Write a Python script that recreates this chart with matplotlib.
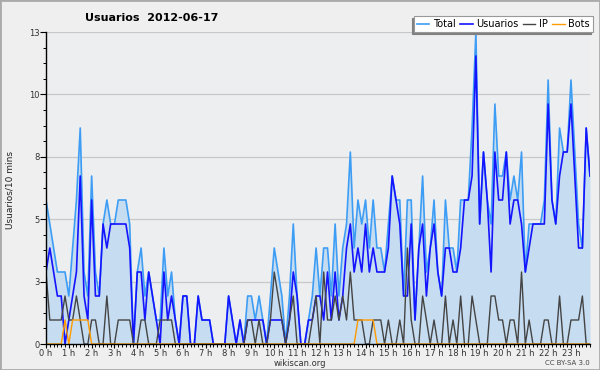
import matplotlib
matplotlib.use("Agg")
import matplotlib.pyplot as plt
import numpy as np
from matplotlib.patches import Rectangle

# users per 10 minutes, 144 slots (0 h .. 23 h 50)
total = [6, 5, 4, 3, 3, 3, 2, 4, 6, 9, 3, 2,
         7, 3, 2, 5, 6, 5, 5, 6, 6, 6, 5, 0,
         3, 4, 2, 3, 2, 1, 1, 4, 2, 3, 1, 0,
         2, 2, 0, 0, 2, 1, 1, 1, 0, 0, 0, 0,
         2, 1, 0, 1, 0, 2, 2, 1, 2, 1, 0, 2,
         4, 3, 2, 0, 2, 5, 2, 0, 0, 1, 2, 4,
         2, 4, 4, 2, 5, 2, 4, 5, 8, 4, 6, 5,
         6, 4, 6, 4, 4, 3, 5, 7, 6, 6, 2, 6,
         6, 1, 4, 7, 3, 4, 6, 3, 2, 6, 4, 4,
         3, 6, 6, 6, 9, 13, 5, 8, 6, 5, 10, 7,
         7, 8, 6, 7, 6, 8, 3, 5, 5, 5, 5, 6,
         11, 6, 5, 9, 8, 8, 11, 8, 5, 4, 9, 7]

usuarios = [3, 4, 3, 2, 2, 0, 1, 2, 3, 7, 2, 1,
            6, 2, 2, 5, 4, 5, 5, 5, 5, 5, 4, 0,
            3, 3, 1, 3, 2, 1, 0, 3, 1, 2, 1, 0,
            2, 2, 0, 0, 2, 1, 1, 1, 0, 0, 0, 0,
            2, 1, 0, 1, 0, 1, 1, 1, 1, 1, 0, 1,
            1, 1, 1, 0, 1, 3, 2, 0, 0, 1, 1, 2,
            2, 1, 3, 1, 3, 1, 2, 4, 5, 3, 4, 3,
            5, 3, 4, 3, 3, 3, 4, 7, 6, 5, 2, 2,
            5, 1, 4, 5, 2, 4, 5, 3, 2, 4, 4, 3,
            3, 4, 6, 6, 7, 12, 5, 8, 6, 3, 8, 6,
            6, 8, 5, 6, 6, 5, 3, 4, 5, 5, 5, 5,
            10, 6, 5, 7, 8, 8, 10, 7, 4, 4, 9, 7]

ip = [3, 1, 1, 1, 1, 2, 1, 1, 2, 1, 0, 0,
      1, 1, 0, 0, 2, 0, 0, 1, 1, 1, 1, 0,
      0, 1, 1, 0, 0, 0, 1, 1, 1, 1, 0, 0,
      0, 0, 0, 0, 0, 0, 0, 0, 0, 0, 0, 0,
      0, 0, 0, 0, 0, 1, 1, 0, 1, 0, 0, 1,
      3, 2, 1, 0, 1, 2, 0, 0, 0, 0, 1, 2,
      0, 3, 1, 1, 2, 1, 2, 1, 3, 1, 1, 1,
      0, 0, 1, 1, 1, 0, 1, 0, 0, 1, 0, 4,
      1, 0, 0, 2, 1, 0, 1, 0, 0, 2, 0, 1,
      0, 2, 0, 0, 2, 1, 0, 0, 0, 2, 2, 1,
      1, 0, 1, 1, 0, 3, 0, 1, 0, 0, 0, 1,
      1, 0, 0, 2, 0, 0, 1, 1, 1, 2, 0, 0]

bots = [0, 0, 0, 0, 0, 1, 0, 1, 1, 1, 1, 1,
        0, 0, 0, 0, 0, 0, 0, 0, 0, 0, 0, 0,
        0, 0, 0, 0, 0, 0, 0, 0, 0, 0, 0, 0,
        0, 0, 0, 0, 0, 0, 0, 0, 0, 0, 0, 0,
        0, 0, 0, 0, 0, 0, 0, 0, 0, 0, 0, 0,
        0, 0, 0, 0, 0, 0, 0, 0, 0, 0, 0, 0,
        0, 0, 0, 0, 0, 0, 0, 0, 0, 0, 1, 1,
        1, 1, 1, 0, 0, 0, 0, 0, 0, 0, 0, 0,
        0, 0, 0, 0, 0, 0, 0, 0, 0, 0, 0, 0,
        0, 0, 0, 0, 0, 0, 0, 0, 0, 0, 0, 0,
        0, 0, 0, 0, 0, 0, 0, 0, 0, 0, 0, 0,
        0, 0, 0, 0, 0, 0, 0, 0, 0, 0, 0, 0]

hour_labels = ['%d h' % h for h in range(24)]
y_ticks = [0, 2.6, 5.2, 7.8, 10.4, 13]
y_labels = ['0', '3', '5', '8', '10', '13']

x = np.arange(len(total))

fig = plt.figure(figsize=(6, 3.7), dpi=100, facecolor='#efefef')
ax = fig.add_axes([46 / 600, 26 / 370, 544 / 600, 312 / 370])
ax.set_facecolor('#eceef0')

ax.fill_between(x, total, color='#c6dcf0', lw=0, zorder=1)
ax.plot(x, total, color='#3d9df5', lw=1.2, label='Total')
ax.plot(x, usuarios, color='#1414ff', lw=1.2, label='Usuarios')
ax.plot(x, ip, color='#444444', lw=1.0, label='IP')
ax.plot(x, bots, color='#ff9a00', lw=1.0, label='Bots')

ax.set_xlim(0, len(total) - 1)
ax.set_ylim(0, 13)

ax.set_yticks(y_ticks)
ax.set_yticklabels(y_labels)
ax.set_yticks(np.arange(0, 13.01, 0.65), minor=True)
ax.set_xticks(x[::6])
ax.set_xticklabels(hour_labels)
ax.set_xticks(x, minor=True)

ax.tick_params(which='major', direction='out', length=4, width=0.8,
               labelsize=6, labelcolor='#333333', pad=0.5)
ax.tick_params(which='minor', direction='out', length=2.5, width=0.7)
ax.tick_params(axis='x', which='major', length=3)

ax.yaxis.grid(True, color='#c8c8c8', lw=0.9)
ax.set_axisbelow(True)
for s in ['top', 'right']:
    ax.spines[s].set_visible(False)
for s in ['left', 'bottom']:
    ax.spines[s].set_color('black')
    ax.spines[s].set_linewidth(1.0)

leg = ax.legend(loc='upper right', bbox_to_anchor=(593 / 600, 1 - 16 / 370),
                bbox_transform=fig.transFigure, ncol=4, fontsize=7,
                handlelength=1.3, handletextpad=0.4, columnspacing=0.4,
                borderpad=0.3, borderaxespad=0, fancybox=False, framealpha=1,
                edgecolor='#999999',
                shadow={'ox': -1.5, 'oy': -1.5, 'color': '#808080', 'alpha': 1})
leg.get_frame().set_linewidth(0.8)

fig.text(85 / 600, 1 - 18 / 370, 'Usuarios  2012-06-17', fontsize=8,
         fontweight='bold', ha='left', va='center')
fig.text(10 / 600, 1 - 190 / 370, 'Usuarios/10 mins', rotation=90,
         fontsize=6.5, ha='center', va='center', color='#222222')
fig.text(0.5, 1 - 363 / 370, 'wikiscan.org', fontsize=6, ha='center',
         va='center', color='#333333')
fig.text(590 / 600, 1 - 363 / 370, 'CC BY-SA 3.0', fontsize=5, ha='right',
         va='center', color='#444444')

fig.patches.append(Rectangle((0, 0), 1, 1, transform=fig.transFigure,
                             fill=False, edgecolor='#aaaaaa', lw=2))

fig.savefig('out.png', dpi=100, facecolor=fig.get_facecolor())
